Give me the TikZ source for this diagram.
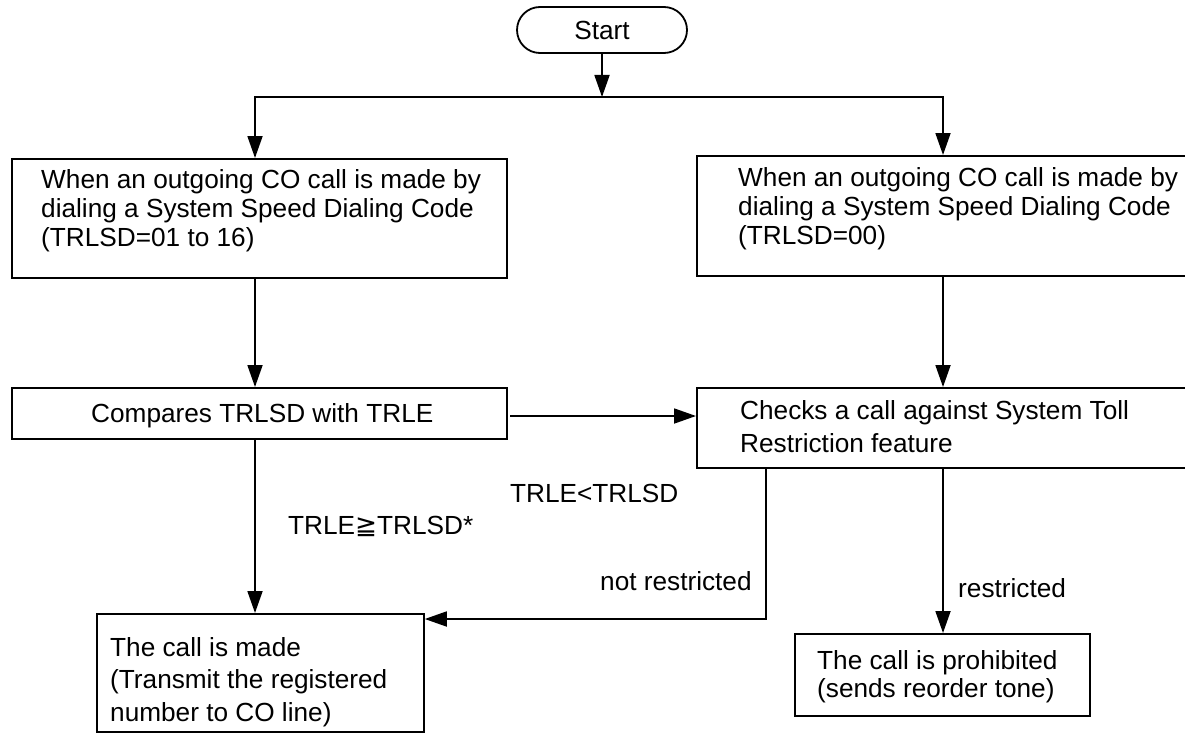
\documentclass[tikz,border=0pt]{standalone}
\usepackage{fontspec}
\setmainfont{Liberation Sans}
\newfontfamily\djv{DejaVu Sans}
\usetikzlibrary{arrows.meta}
\begin{document}
\begin{tikzpicture}[x=1pt,y=-1pt,
  lw/.style={line width=1.8pt},
  box/.style={draw, lw, inner sep=0pt, anchor=north west},
  txt/.style={inner sep=0pt, align=left, anchor=north west},
  lbl/.style={inner sep=0pt, anchor=base west},
  arr/.style={lw, -{Triangle[length=22pt,width=15pt]}},
  every node/.style={font=\fontsize{26.2}{29}\selectfont}]
\useasboundingbox (0,0) rectangle (1185,733);
\clip (0,0) rectangle (1185,733);
\fill[white] (0,0) rectangle (1185,733);

% start
\node[draw, lw, rounded corners=23pt, minimum width=170pt, minimum height=46pt, inner sep=0pt] (start) at (602,30) {Start};
\coordinate (jn) at (602,97);
\coordinate (jl) at (255,97);
\coordinate (jr) at (943,97);

% boxes
\node[box, minimum width=495pt, minimum height=119pt] (tl) at (11,158) {};
\node[box, minimum width=495pt, minimum height=120pt] (tr) at (696,155) {};
\node[box, minimum width=495pt, minimum height=51pt] (cmp) at (11,387) {};
\node[box, minimum width=495pt, minimum height=80pt] (chk) at (696,387) {};
\node[box, minimum width=327pt, minimum height=118pt] (bl) at (96,613) {};
\node[box, minimum width=295pt, minimum height=82pt] (br) at (794,633) {};

% texts
\node[txt] (tlt) at (41,169) {When an outgoing CO call is made by\\dialing a System Speed Dialing Code\\(TRLSD=01 to 16)};
\node[txt] (trt) at (738,167) {When an outgoing CO call is made by\\dialing a System Speed Dialing Code\\(TRLSD=00)};
\node[lbl] (cmpt) at (91,422) {Compares TRLSD with TRLE};
\node[txt, font=\fontsize{26.2}{33}\selectfont] (chkt) at (740,400) {Checks a call against System Toll\\Restriction feature};
\node[txt, font=\fontsize{26.2}{32.5}\selectfont] (blt) at (110,637) {The call is made\\(Transmit the registered\\number to CO line)};
\node[txt, font=\fontsize{26.2}{28.5}\selectfont] (brt) at (817,650) {The call is prohibited\\(sends reorder tone)};

% labels
\node[lbl] (l1) at (288,534) {TRLE{\djv ≧}TRLSD*};
\node[lbl] (l2) at (510,502) {TRLE<TRLSD};
\node[lbl] (l3) at (600,590) {not restricted};
\node[lbl] (l4) at (958,597) {restricted};

% connectors
\draw[arr] (start.south) -- (jn);
\draw[arr] (jn) -- (jl) -- (tl.north -| jl);
\draw[arr] (jn) -- (jr) -- (tr.north -| jr);
\draw[arr] (tl.south -| jl) -- (cmp.north -| jl);
\draw[arr] (cmp.south -| jl) -- (bl.north -| jl);
\draw[arr] (tr.south -| jr) -- (chk.north -| jr);
\draw[arr] (chk.south -| jr) -- (br.north -| jr);
\coordinate (ca) at (510,416);
\draw[arr] (ca) -- (chk.west |- ca);
\coordinate (c1) at (766,619);
\draw[arr] (chk.south -| c1) -- (c1) -- (bl.east |- c1);
\end{tikzpicture}
\end{document}
